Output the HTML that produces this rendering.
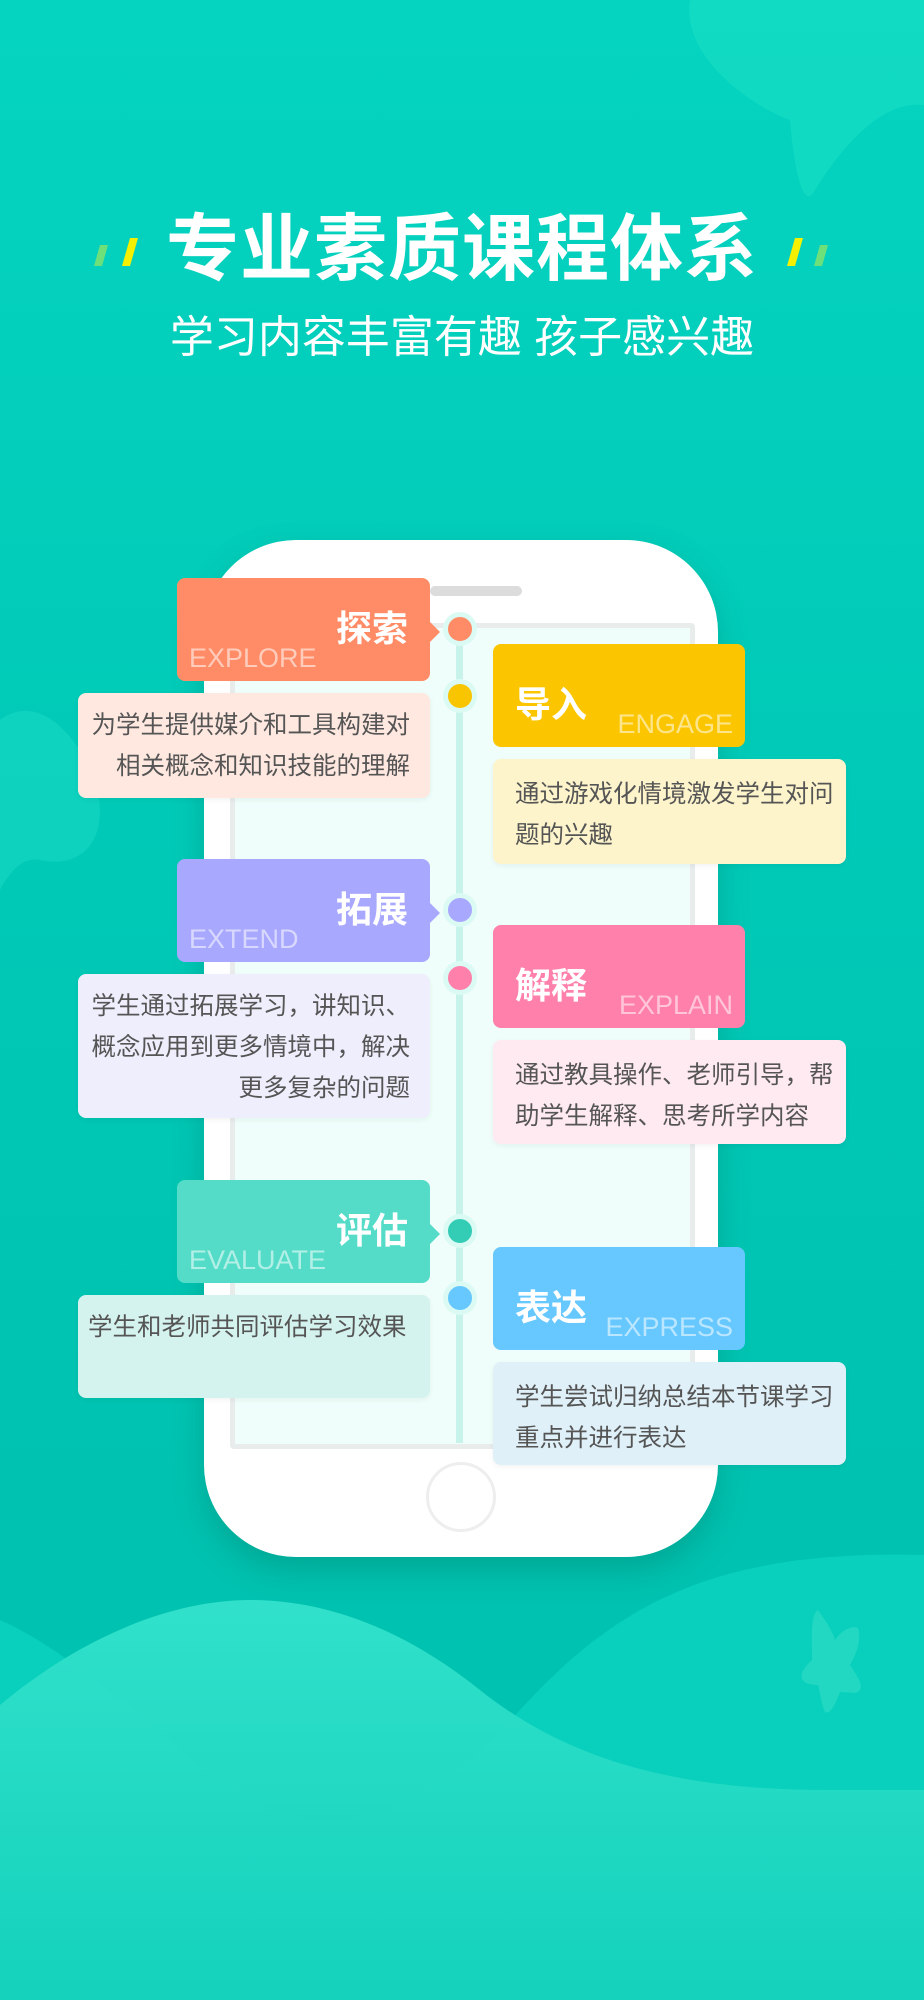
<!DOCTYPE html>
<html><head><meta charset="utf-8">
<style>
*{margin:0;padding:0;box-sizing:border-box}
body{width:924px;height:2000px;overflow:hidden;position:relative;font-family:"Liberation Sans","Noto Sans CJK SC",sans-serif;background:linear-gradient(180deg,#05d4c0 0%,#00c9b6 45%,#00c2b0 75%,#00c2b0 100%)}
.abs{position:absolute}
.title{left:0;width:924px;top:205px;text-align:center;color:#fff;font-size:73px;font-weight:bold;letter-spacing:1px;line-height:90px}
.sub{left:0;width:924px;top:308px;text-align:center;color:#fff;font-size:44px;line-height:60px}
.phone{left:204px;top:540px;width:514px;height:1017px;background:#fff;border-radius:92px;box-shadow:0 14px 30px rgba(0,120,100,.35)}
.screen{left:230px;top:623px;width:465px;height:826px;background:#effefa;border:5px solid #e8eceb;border-radius:4px}
.spk{left:430px;top:586px;width:92px;height:10px;background:#dcdcdc;border-radius:5px}
.home{left:426px;top:1462px;width:70px;height:70px;border:3px solid #eee;border-radius:50%}
.line{left:456px;top:623px;width:7px;height:820px;background:#c8f3ea}
.dot{width:34px;height:34px;border-radius:50%;border:5px solid #dcfaf4;left:443px}
.hd{color:#fff;border-radius:8px;height:103px}
.hd b{position:absolute;font-size:36px;top:22px}
.hd i{position:absolute;font-style:normal;font-size:27px;bottom:7px;color:rgba(255,255,255,.55)}
.L b{right:22px}.L i{left:12px}
.R b{left:22px;top:32px}.R i{right:12px}
.hd.L:after{content:"";position:absolute;right:-10px;top:44px;border:10px solid transparent;border-right:0;border-left-color:inherit}
.ds{border-radius:8px;font-size:24.5px;color:#555;line-height:41px;padding:12px 0 12px 22px;box-shadow:0 2px 6px rgba(0,0,0,.05);white-space:nowrap}
.ds.L{text-align:right;padding:12px 20px 12px 0}
</style></head><body>
<svg class="abs" style="left:0;top:0" width="924" height="2000">
<defs><linearGradient id="g" x1="0" y1="0" x2="0" y2="1"><stop offset="0" stop-color="#33e2cc"/><stop offset="1" stop-color="#14d2bc"/></linearGradient></defs>
<path d="M690 0 C680 60 760 110 790 120 C795 180 805 210 815 190 C840 150 880 100 924 105 L924 0Z" fill="#14dcc2" opacity=".8"/>
<path d="M0 720 C40 690 80 740 95 780 C110 830 90 870 40 860 C20 855 5 880 0 890Z" fill="#14d6c0" opacity=".7"/>
<path d="M0 1620 C90 1660 180 1760 250 1800 C350 1850 440 1800 520 1710 C620 1600 720 1550 924 1555 L924 2000 L0 2000Z" fill="#08d0bc"/>
<path d="M0 1705 C90 1630 180 1600 250 1600 C350 1600 430 1650 480 1690 C580 1770 700 1790 830 1790 L924 1790 L924 2000 L0 2000Z" fill="url(#g)" opacity=".95"/>
<path d="M818 1610 C825 1620 832 1630 835 1640 C842 1630 852 1625 858 1628 C862 1640 856 1655 850 1665 C860 1680 866 1690 855 1693 L840 1692 C835 1705 830 1715 825 1712 C820 1700 820 1690 818 1685 C800 1685 795 1675 812 1660 C812 1640 810 1615 818 1610Z" fill="#22d8c2"/>
<polygon points="100,245 108,245 102,266 94,266" fill="#6ee07a"/>
<polygon points="130,238 138,238 130,266 122,266" fill="#f4f000"/>
<polygon points="795,238 803,238 795,266 787,266" fill="#f4f000"/>
<polygon points="820,245 828,245 822,266 814,266" fill="#6ee07a"/>
</svg>
<div class="abs title">专业素质课程体系</div>
<div class="abs sub">学习内容丰富有趣 孩子感兴趣</div>
<div class="abs phone"></div>
<div class="abs spk"></div>
<div class="abs screen"></div>
<div class="abs home"></div>
<div class="abs line"></div>

<div class="abs dot" style="top:612px;background:#ff8c66"></div>
<div class="abs dot" style="top:679px;background:#f9c500"></div>
<div class="abs dot" style="top:893px;background:#a8a8ff"></div>
<div class="abs dot" style="top:961px;background:#ff80aa"></div>
<div class="abs dot" style="top:1214px;background:#33ccb4"></div>
<div class="abs dot" style="top:1281px;background:#66c8ff"></div>

<div class="abs hd L" style="left:177px;top:578px;width:253px;background:#ff8c66;border-color:#ff8c66"><b>探索</b><i>EXPLORE</i></div>
<div class="abs ds L" style="left:78px;top:693px;width:352px;height:105px;background:#ffe8e0">为学生提供媒介和工具构建对<br>相关概念和知识技能的理解</div>
<div class="abs hd R" style="left:493px;top:644px;width:252px;background:#fbc600"><b>导入</b><i>ENGAGE</i></div>
<div class="abs ds" style="left:493px;top:759px;width:353px;height:105px;background:#fdf4cc;padding-top:15px">通过游戏化情境激发学生对问<br>题的兴趣</div>

<div class="abs hd L" style="left:177px;top:859px;width:253px;background:#a8a8ff;border-color:#a8a8ff"><b>拓展</b><i>EXTEND</i></div>
<div class="abs ds L" style="left:78px;top:974px;width:352px;height:144px;background:#eeeefc">学生通过拓展学习，讲知识、<br>概念应用到更多情境中，解决<br>更多复杂的问题</div>
<div class="abs hd R" style="left:493px;top:925px;width:252px;background:#ff80aa"><b>解释</b><i>EXPLAIN</i></div>
<div class="abs ds" style="left:493px;top:1040px;width:353px;height:104px;background:#ffeaf1;padding-top:15px">通过教具操作、老师引导，帮<br>助学生解释、思考所学内容</div>

<div class="abs hd L" style="left:177px;top:1180px;width:253px;background:#55dcc8;border-color:#55dcc8"><b>评估</b><i>EVALUATE</i></div>
<div class="abs ds" style="left:78px;top:1295px;width:352px;height:103px;background:#d5f3ee;padding-left:10px">学生和老师共同评估学习效果</div>
<div class="abs hd R" style="left:493px;top:1247px;width:252px;background:#66c8ff"><b>表达</b><i>EXPRESS</i></div>
<div class="abs ds" style="left:493px;top:1362px;width:353px;height:103px;background:#dff0f8;padding-top:15px">学生尝试归纳总结本节课学习<br>重点并进行表达</div>
</body></html>
